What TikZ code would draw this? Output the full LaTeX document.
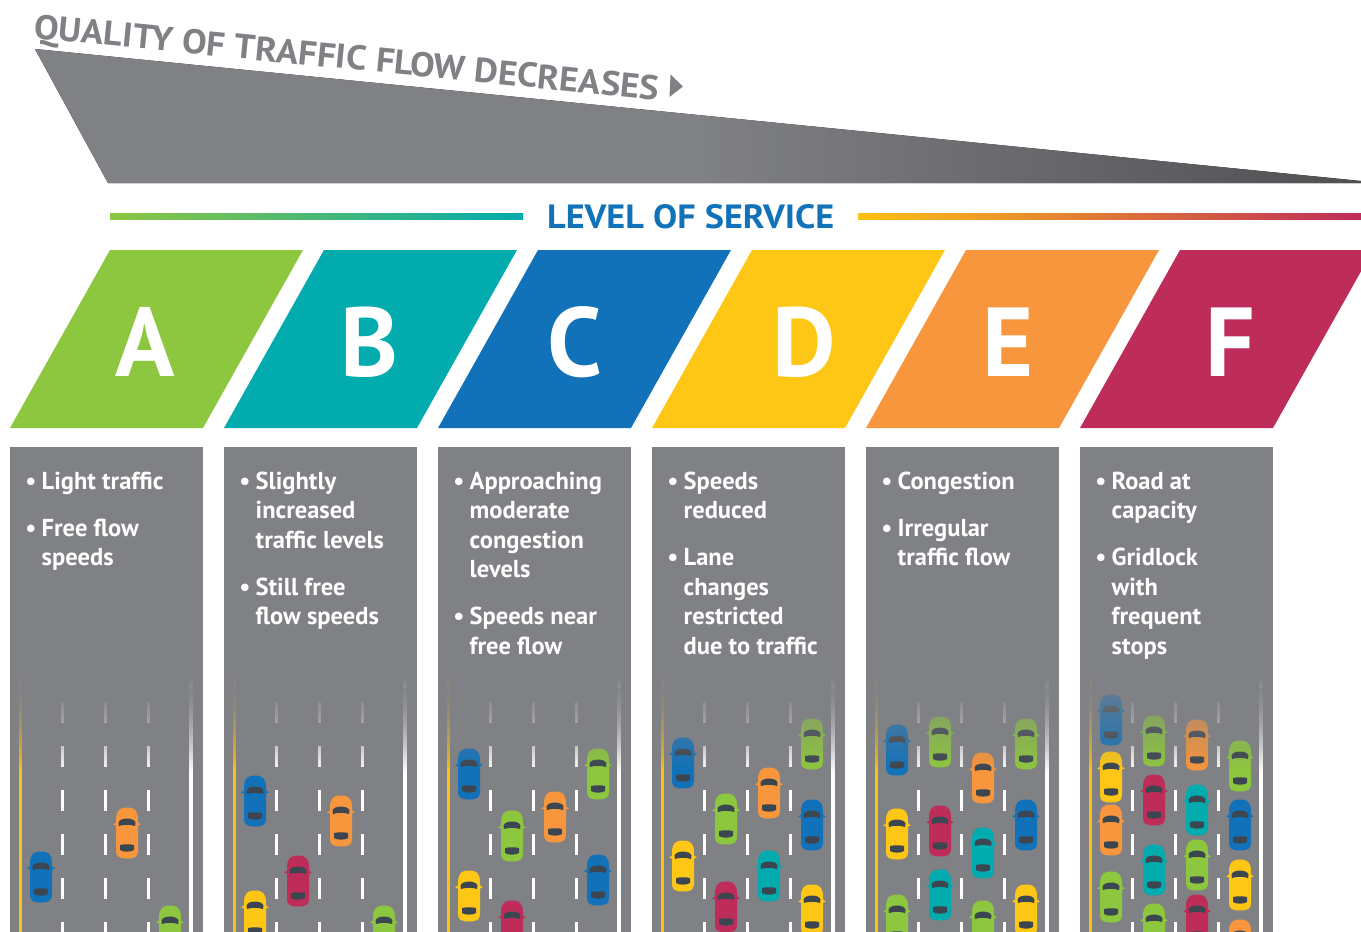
\documentclass[tikz,border=0pt]{standalone}
\usepackage{fontspec}
\setmainfont{PT Sans}
\usetikzlibrary{fadings}
\definecolor{cgreen}{HTML}{8DC63F}
\definecolor{cteal}{HTML}{02ABAE}
\definecolor{cblue}{HTML}{1172B9}
\definecolor{cyellow}{HTML}{FEC716}
\definecolor{corange}{HTML}{F7963C}
\definecolor{cred}{HTML}{BE2C5A}
\definecolor{panelgray}{HTML}{808185}
\definecolor{trapdark}{HTML}{505053}
\definecolor{carwin}{HTML}{3C4650}
\definecolor{roadyellow}{HTML}{FEC20E}
\tikzfading[name=fadedown, top color=transparent!0, bottom color=transparent!100]
\newcommand\bodyfont{\bfseries\fontsize{24.5}{29.5}\selectfont}
\tikzset{
  pics/car/.style={code={
    \fill[#1] (-11,-13) .. controls (-11,-23) and (-7.5,-25.5) .. (0,-25.5)
      .. controls (7.5,-25.5) and (11,-23) .. (11,-13) -- (11,18)
      .. controls (11,23.5) and (8,25.5) .. (0,25.5)
      .. controls (-8,25.5) and (-11,23.5) .. (-11,18) -- cycle;
    \fill[#1] (-10.5,-11) -- (-13.8,-8.5) -- (-10.5,-7.2) -- cycle;
    \fill[#1] (10.5,-11) -- (13.8,-8.5) -- (10.5,-7.2) -- cycle;
    \fill[carwin] (-8,-7) -- (-8.5,-10.5) .. controls (-7,-15.8) and (7,-15.8) .. (8.5,-10.5)
      -- (8,-7) .. controls (4,-8.6) and (-4,-8.6) .. cycle;
    \fill[carwin] (-7,12) .. controls (-3,11) and (3,11) .. (7,12) -- (7,17)
      .. controls (4,19.2) and (-4,19.2) .. (-7,17) -- cycle;
  }},
  item/.style={anchor=base west, text=white, font=\bodyfont, inner sep=0pt},
  bul/.style={anchor=base, text=white, font=\bodyfont, inner sep=0pt},
  bigletter/.style={anchor=base, text=white, inner sep=0pt,
    font=\bfseries\fontsize{98}{98}\selectfont},
  panel/.style={fill=panelgray},
}
\begin{document}
\begin{tikzpicture}[x=1pt,y=-1pt]
\useasboundingbox (0,0) rectangle (1361,932);
\clip (0,0) rectangle (1361,932);
% header trapezoid
\fill[left color=panelgray, right color=trapdark, middle color=panelgray]
  (35,49) -- (1361,181) -- (1361,183) -- (108,183) -- cycle;
\node[anchor=base west, rotate=-5.67, inner sep=0pt, text=panelgray] (title) at (33,38)
  {\resizebox{628pt}{24.5pt}{\bfseries QUALITY OF TRAFFIC FLOW DECREASES}};
\fill[panelgray] (670.5,74.5) -- (683,86.5) -- (669.5,97) -- cycle;
% level of service
\fill[left color=cgreen, right color=cteal] (110,213) rectangle (523,219.5);
\fill[left color=cyellow!90!orange, middle color=corange, right color=cred] (858,213) rectangle (1361,219.5);
\node[anchor=base west, inner sep=0pt, text=cblue] (los) at (547,228)
  {\resizebox{287pt}{24pt}{\bfseries LEVEL OF SERVICE}};
% parallelograms and panels
\foreach \col/\ltr/\lx [count=\n from 0] in {cgreen/A/145, cteal/B/369, cblue/C/575, cyellow/D/804, corange/E/1008.5, cred/F/1230}{
  \pgfmathsetmacro\xo{10+214*\n}
  \fill[\col] (\xo,428) -- ({\xo+193},428) -- ({\xo+293},250) -- ({\xo+100},250) -- cycle;
  \node[bigletter] (L\n) at (\lx,376) {\ltr};
  \fill[panel] (\xo,447) rectangle ({\xo+193},940);
  \fill[roadyellow] ({\xo+8.8},677) rectangle ({\xo+11.8},940);
  \fill[white] ({\xo+179.3},677) rectangle ({\xo+182.5},940);
  \foreach \dd in {52,95.5,138}{
    \foreach \kk in {0,...,5}{
      \fill[white] ({\xo+\dd-1.5},{702+44*\kk}) rectangle ({\xo+\dd+1.5},{723+44*\kk});
    }
  }
  \fill[panelgray, path fading=fadedown] (\xo,676) rectangle ({\xo+193},772);
}
% cars
\foreach \ci/\ln/\cy/\col in {0/1/877/cblue, 0/3/833/corange, 0/4/931/cgreen, 1/1/801/cblue, 1/3/821/corange, 1/2/881/cred, 1/1/916/cyellow, 1/4/931/cgreen, 2/1/774/cblue, 2/4/774/cgreen, 2/3/817/corange, 2/2/836/cgreen, 2/4/880/cblue, 2/1/896/cyellow, 2/2/926/cred, 3/1/763/cblue, 3/4/744/cgreen, 3/3/793/corange, 3/2/819/cgreen, 3/4/825/cblue, 3/1/866/cyellow, 3/3/876/cteal, 3/2/907/cred, 3/4/910/cyellow, 4/1/750/cblue, 4/2/742/cgreen, 4/4/744/cgreen, 4/3/778/corange, 4/1/834/cyellow, 4/2/831/cred, 4/4/825/cblue, 4/3/853/cteal, 4/2/895/cteal, 4/1/920/cgreen, 4/3/926/cgreen, 4/4/910/cyellow, 5/1/720/cblue, 5/2/741/cgreen, 5/3/745/corange, 5/1/777/cyellow, 5/4/766/cgreen, 5/2/800/cred, 5/3/810/cteal, 5/1/830/corange, 5/4/825/cblue, 5/3/865/cgreen, 5/2/870/cteal, 5/4/885/cyellow, 5/1/897/cgreen, 5/2/929/cgreen, 5/3/920/cred, 5/4/945/corange}{
  \pic at ({10+214*\ci+31+43*(\ln-1)},\cy) {car=\col};
}
\foreach \n in {0,...,5}{
  \fill[panelgray, fill opacity=0.72, path fading=fadedown] ({10+214*\n},688) rectangle ({10+214*\n+193},770);
}
% texts
\foreach \ci/\ty/\bb/\tx [count=\m] in {0/489/1/Light traffic, 0/536/1/Free flow, 0/565.5/0/speeds, 1/489/1/Slightly, 1/518.5/0/increased, 1/548/0/traffic levels, 1/595/1/Still free, 1/624.5/0/flow speeds, 2/489/1/Approaching, 2/518.5/0/moderate, 2/548/0/congestion, 2/577.5/0/levels, 2/624.5/1/Speeds near, 2/654/0/free flow, 3/489/1/Speeds, 3/518.5/0/reduced, 3/565.5/1/Lane, 3/595/0/changes, 3/624.5/0/restricted, 3/654/0/due to traffic, 4/489/1/Congestion, 4/536/1/Irregular, 4/565.5/0/traffic flow, 5/489/1/Road at, 5/518.5/0/capacity, 5/565.5/1/Gridlock, 5/595/0/with, 5/624.5/0/frequent, 5/654/0/stops}{
  \node[item] (t\m) at ({10+214*\ci+31.5},\ty) {\tx};
  \ifnum\bb=1 \node[bul] (b\m) at ({10+214*\ci+21},\ty) {•}; \fi
}
\end{tikzpicture}
\end{document}
